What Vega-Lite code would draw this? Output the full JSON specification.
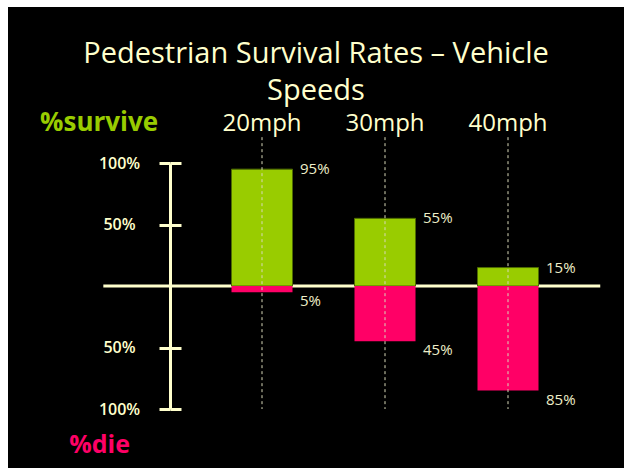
{
  "$schema": "https://vega.github.io/schema/vega-lite/v6.json",
  "width": 616,
  "height": 461,
  "autosize": {"type": "none"},
  "padding": {"left": 8, "top": 7, "right": 0, "bottom": 0},
  "background": "white",
  "config": {"view": {"fill": "black", "stroke": null}, "font": "Open Sans"},
  "title": {
    "text": ["Pedestrian Survival Rates – Vehicle", "Speeds"],
    "color": "#FFFFCC",
    "font": "Open Sans",
    "fontSize": 29,
    "fontWeight": "normal",
    "lineHeight": 37,
    "frame": "group",
    "anchor": "middle",
    "offset": -99
  },
  "data": {
    "values": [
      {"speed": 20, "label": "20mph", "survive": 0.95, "die": 0.05},
      {"speed": 30, "label": "30mph", "survive": 0.55, "die": 0.45},
      {"speed": 40, "label": "40mph", "survive": 0.15, "die": 0.85}
    ]
  },
  "resolve": {"scale": {"y": "independent"}},
  "layer": [
    {
      "data": {"values": [{}]},
      "mark": {"type": "rule", "color": "#FFFFCC", "strokeWidth": 3},
      "encoding": {
        "x": {"datum": 7.1, "type": "quantitative", "scale": {"domain": [0, 50], "range": [8, 623], "padding": 0, "nice": false, "zero": false}, "axis": null},
        "x2": {"datum": 47.5},
        "y": {"datum": 0, "type": "quantitative", "scale": {"domain": [-1, 1], "range": [402, 156]}, "axis": null}
      }
    },
    {
      "mark": {"type": "bar", "width": 61, "color": "#99CC00", "stroke": "#4D6B00", "strokeWidth": 1},
      "encoding": {
        "x": {"field": "speed", "type": "quantitative", "axis": null},
        "y": {
          "field": "survive", "type": "quantitative",
          "scale": {"domain": [-1, 1], "range": [402, 156]},
          "axis": {
            "orient": "left", "offset": -162, "values": [-1, -0.5, 0.5, 1],
            "labelExpr": "format(abs(datum.value), '.0%')",
            "domain": true, "domainColor": "#FFFFCC", "domainWidth": 3,
            "ticks": true, "tickColor": "#FFFFCC", "tickWidth": 3, "tickSize": 11,
            "labelAlign": "center", "labelBaseline": "middle", "labelPadding": 40,
            "labelColor": "#FFFFCC", "labelFont": "Open Sans", "labelFontSize": 16, "labelFontWeight": 600,
            "labelFlush": false, "labelOverlap": false,
            "grid": false, "title": null
          }
        },
        "y2": {"datum": 0}
      }
    },
    {
      "mark": {"type": "bar", "width": 61, "color": "#FF0066"},
      "encoding": {
        "x": {"field": "speed", "type": "quantitative", "axis": null},
        "y": {
          "field": "die", "type": "quantitative",
          "scale": {"domain": [-1, 1], "range": [156, 402]},
          "axis": {
            "orient": "right", "offset": -454, "values": [-1, -0.5, 0.5, 1],
            "domain": false, "labels": false,
            "ticks": true, "tickColor": "#FFFFCC", "tickWidth": 3, "tickSize": 11,
            "grid": false, "title": null
          }
        },
        "y2": {"datum": 0}
      }
    },
    {
      "mark": {"type": "rule", "color": "#D8D8B8", "strokeWidth": 1, "strokeDash": [3, 3]},
      "encoding": {
        "x": {"field": "speed", "type": "quantitative", "axis": null},
        "y": {"datum": 1.21, "type": "quantitative", "scale": {"domain": [-1, 1], "range": [402, 156]}, "axis": null},
        "y2": {"datum": -1.0}
      }
    },
    {
      "mark": {"type": "text", "align": "left", "baseline": "middle", "dx": 38, "fontSize": 15, "color": "#EEEEC8", "font": "Open Sans"},
      "encoding": {
        "x": {"field": "speed", "type": "quantitative", "axis": null},
        "y": {"field": "survive", "type": "quantitative", "scale": {"domain": [-1, 1], "range": [402, 156]}, "axis": null},
        "text": {"field": "survive", "type": "quantitative", "format": ".0%"}
      }
    },
    {
      "mark": {"type": "text", "align": "left", "baseline": "top", "dx": 38, "dy": 2, "fontSize": 15, "color": "#EEEEC8", "font": "Open Sans"},
      "encoding": {
        "x": {"field": "speed", "type": "quantitative", "axis": null},
        "y": {"field": "die", "type": "quantitative", "scale": {"domain": [-1, 1], "range": [156, 402]}, "axis": null},
        "text": {"field": "die", "type": "quantitative", "format": ".0%"}
      }
    },
    {
      "mark": {"type": "text", "align": "center", "baseline": "alphabetic", "fontSize": 24, "color": "#FFFFCC", "font": "Open Sans"},
      "encoding": {
        "x": {"field": "speed", "type": "quantitative", "axis": null},
        "y": {"datum": 1.263, "type": "quantitative", "scale": {"domain": [-1, 1], "range": [402, 156]}, "axis": null},
        "text": {"field": "label"}
      }
    },
    {
      "data": {"values": [{}]},
      "mark": {"type": "text", "text": "%survive", "align": "center", "baseline": "alphabetic", "fontSize": 26, "fontWeight": "bold", "color": "#99CC00", "font": "Open Sans"},
      "encoding": {
        "x": {"datum": 6.76, "type": "quantitative", "axis": null},
        "y": {"datum": 1.263, "type": "quantitative", "scale": {"domain": [-1, 1], "range": [402, 156]}, "axis": null}
      }
    },
    {
      "data": {"values": [{}]},
      "mark": {"type": "text", "text": "%die", "align": "center", "baseline": "alphabetic", "fontSize": 25, "fontWeight": "bold", "color": "#FF0066", "font": "Open Sans"},
      "encoding": {
        "x": {"datum": 6.8, "type": "quantitative", "axis": null},
        "y": {"datum": -1.358, "type": "quantitative", "scale": {"domain": [-1, 1], "range": [402, 156]}, "axis": null}
      }
    }
  ]
}
